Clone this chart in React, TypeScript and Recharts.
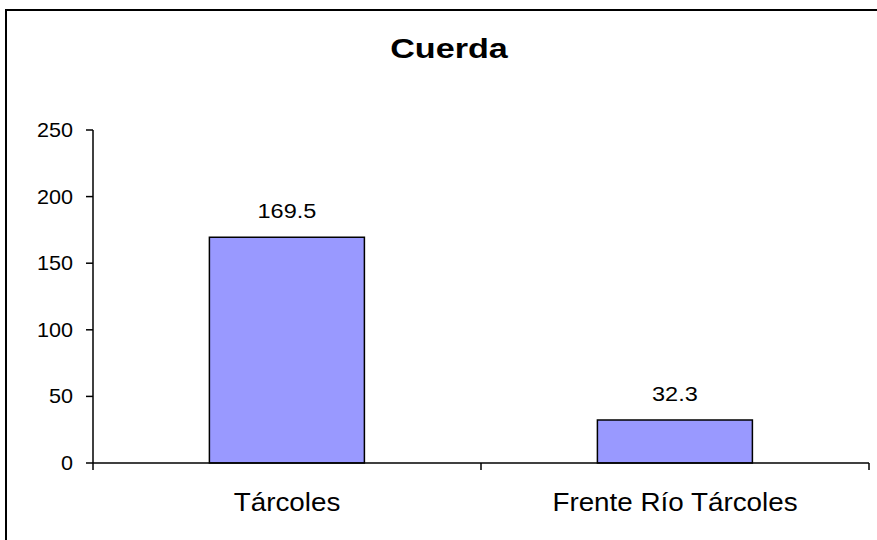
import React from "react";
import { BarChart, Bar, XAxis, YAxis, LabelList } from "recharts";

const categories = ["Tárcoles", "Frente Río Tárcoles"];
const values = [169.5, 32.3];
const yTicks = [0, 50, 100, 150, 200, 250];
const title = "Cuerda";

const data = categories.map((c, i) => ({ name: c, value: values[i] }));

const FONT = "'Liberation Sans', Arial, sans-serif";

function STxt(props: any) {
  const { x, y, sx = 1, size, anchor = "middle", weight = "normal", children } = props;
  return (
    <text
      transform={`translate(${x},${y}) scale(${sx},1)`}
      textAnchor={anchor}
      fontFamily={FONT}
      fontSize={size}
      fontWeight={weight}
      fill="#000"
    >
      {children}
    </text>
  );
}

const YTick = (props: any) => {
  const { x, y, payload } = props;
  return (
    <STxt x={x - 11} y={y + 7} size={20} sx={1.08} anchor="end">
      {payload.value}
    </STxt>
  );
};

const PLOT_BOTTOM = 463;

const XTick = (props: any) => {
  const { x, payload, index, visibleTicksCount } = props;
  const off = payload.offset || 0;
  const isLast = index === visibleTicksCount - 1;
  return (
    <g>
      <line x1={x - off} x2={x - off} y1={PLOT_BOTTOM} y2={PLOT_BOTTOM + 7} stroke="#000" strokeWidth={1.5} />
      {isLast && (
        <line x1={x + off} x2={x + off} y1={PLOT_BOTTOM} y2={PLOT_BOTTOM + 7} stroke="#000" strokeWidth={1.5} />
      )}
      <STxt x={x} y={511} size={26} sx={1.07}>
        {payload.value}
      </STxt>
    </g>
  );
};

const ValueLabel = (props: any) => {
  const { x, y, width, value } = props;
  return (
    <STxt x={x + width / 2} y={y - 19} size={21} sx={1.12}>
      {value}
    </STxt>
  );
};

export default function App() {
  return (
    <div style={{ position: "absolute", left: 0, top: 0, width: 877, height: 540, background: "#fff", overflow: "hidden" }}>
      <div
        style={{
          position: "absolute",
          left: 5,
          top: 9,
          width: 870,
          height: 529,
          borderTop: "2px solid #000",
          borderLeft: "2px solid #000",
        }}
      />
      <div style={{ position: "absolute", left: 0, top: 0 }}>
        <BarChart
          width={877}
          height={540}
          data={data}
          margin={{ top: 130, right: 8, bottom: 0, left: 33 }}
          barCategoryGap="30%"
        >
          <text
            transform={`translate(449,58) scale(1.22,1)`}
            textAnchor="middle"
            fontFamily={FONT}
            fontSize={28}
            fontWeight="bold"
            fill="#000"
          >
            {title}
          </text>
          <XAxis
            dataKey="name"
            height={77}
            axisLine={{ stroke: "#000", strokeWidth: 1.5 }}
            tickLine={false}
            tick={<XTick />}
            interval={0}
          />
          <YAxis
            width={60}
            domain={[0, 250]}
            ticks={yTicks}
            axisLine={{ stroke: "#000", strokeWidth: 1.5 }}
            tickLine={{ stroke: "#000", strokeWidth: 1.5 }}
            tickSize={7}
            tick={<YTick />}
            interval={0}
          />
          <Bar dataKey="value" fill="#9999FF" stroke="#000" strokeWidth={1.5} isAnimationActive={false}>
            <LabelList dataKey="value" content={<ValueLabel />} />
          </Bar>
        </BarChart>
      </div>
    </div>
  );
}
